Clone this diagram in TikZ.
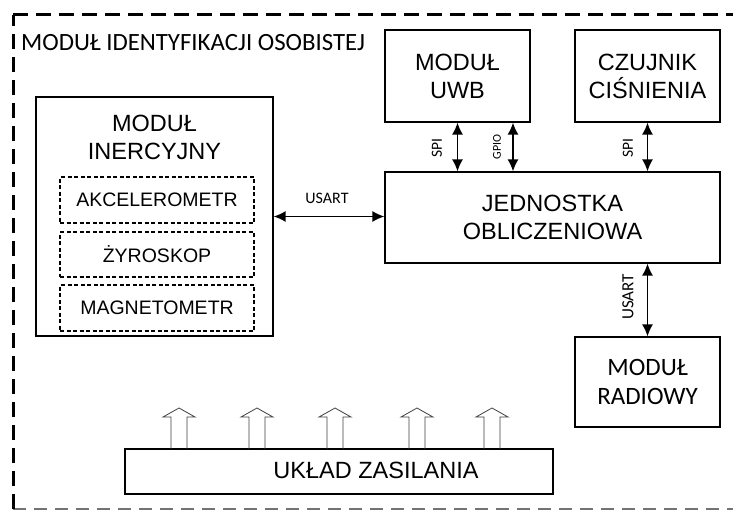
\documentclass[tikz,border=0pt]{standalone}
\usepackage{fontspec}
\setmainfont{Liberation Sans}
\newfontfamily\calfont{Carlito}
\usetikzlibrary{arrows.meta}
\tikzset{
  blk/.style={draw, line width=1.2pt, inner sep=0pt},
  blktext/.style={align=center, inner sep=0pt, font=\fontsize{23.5}{28}\selectfont},
  sub/.style={draw, dashed, dash pattern=on 4pt off 2.5pt, line width=1.4pt, inner sep=0pt,
    minimum width=194pt, font=\fontsize{19.5}{23}\selectfont},
  biarrow/.style={line width=1.6pt, {Latex[length=12pt,width=11pt]}-{Latex[length=12pt,width=11pt]}},
  lbl/.style={inner sep=0pt, font=\calfont\fontsize{16}{18}\selectfont},
  hollow/.style={line width=0.8pt, draw=black!75},
  frameline/.style={line width=3pt, dash pattern=on 15pt off 8pt},
  framebottom/.style={line width=1.4pt, draw=black!55, dash pattern=on 13pt off 8pt}
}
\begin{document}
\begin{tikzpicture}[x=1pt,y=-1pt]
\fill[white] (0,0) rectangle (733,511);
\useasboundingbox (0,0) rectangle (733,511);
% outer frame
\coordinate (ftl) at (13,15);
\coordinate (ftr) at (733,15);
\coordinate (fbl) at (13,509);
\coordinate (fbr) at (733,509);
\draw[framebottom] (fbl) -- (fbr);
\draw[frameline] (fbl) -- (ftl);
\draw[frameline] (ftl) -- (ftr);
\node[anchor=west, inner sep=0pt, font=\calfont\fontsize{24.8}{28}\selectfont] (title) at (21,43) {MODUŁ IDENTYFIKACJI OSOBISTEJ};

% inertial module
\node[blk, minimum width=237pt, minimum height=239pt] (inerc) at (154.5,216.5) {};
\node[blktext] (inerct) at (154.5,137) {MODUŁ\\INERCYJNY};
\node[sub, minimum height=46pt] (akc) at (157,200) {AKCELEROMETR};
\node[sub, minimum height=45pt] (zyro) at (157,254.5) {ŻYROSKOP};
\node[sub, minimum height=46pt] (magn) at (157,308) {MAGNETOMETR};

% other blocks
\node[blk, blktext, minimum width=145pt, minimum height=92pt] (uwb) at (457.5,76) {MODUŁ\\UWB};
\node[blk, blktext, minimum width=145pt, minimum height=92pt] (czuj) at (647.5,76) {CZUJNIK\\CIŚNIENIA};
\node[blk, blktext, minimum width=335pt, minimum height=91pt] (jedn) at (552.5,217.5) {JEDNOSTKA\\OBLICZENIOWA};
\node[blk, align=center, font=\calfont\fontsize{25}{29}\selectfont, minimum width=145pt, minimum height=90pt] (radio) at (647.5,382) {MODUŁ\\RADIOWY};
\node[blk, minimum width=428pt, minimum height=45pt] (zasil) at (339,471.5) {};
\node[blktext] (zasilt) at (376,470) {UKŁAD ZASILANIA};

% connectors
\coordinate (gx) at (513,0);
\draw[biarrow] (inerc.east) -- (inerc.east -| jedn.west);
\draw[biarrow] (uwb.south) -- (uwb.south |- jedn.north);
\draw[biarrow] (gx |- uwb.south) -- (gx |- jedn.north);
\draw[biarrow] (czuj.south) -- (czuj.south |- jedn.north);
\draw[biarrow] (radio.north |- jedn.south) -- (radio.north);

% labels
\node[lbl] (lusart) at (327,198) {USART};
\node[lbl, rotate=90, font=\calfont\fontsize{15.5}{18}\selectfont] (lspi1) at (437,148) {SPI};
\node[lbl, rotate=90, font=\calfont\fontsize{12}{14}\selectfont] (lgpio) at (497,147) {GPIO};
\node[lbl, rotate=90, font=\calfont\fontsize{15.5}{18}\selectfont] (lspi2) at (628,148) {SPI};
\node[lbl, rotate=90, font=\calfont\fontsize{17}{19}\selectfont] (lusart2) at (628,297) {USART};

% power arrows
\foreach \px in {179,257,335,417,492}{
  \draw[hollow] (\px-8,449) -- (\px-8,417) -- (\px-16,417) -- (\px,408) -- (\px+16,417) -- (\px+8,417) -- (\px+8,449);
}
\fill[white] (723,19) rectangle (733,505);
\end{tikzpicture}
\end{document}
